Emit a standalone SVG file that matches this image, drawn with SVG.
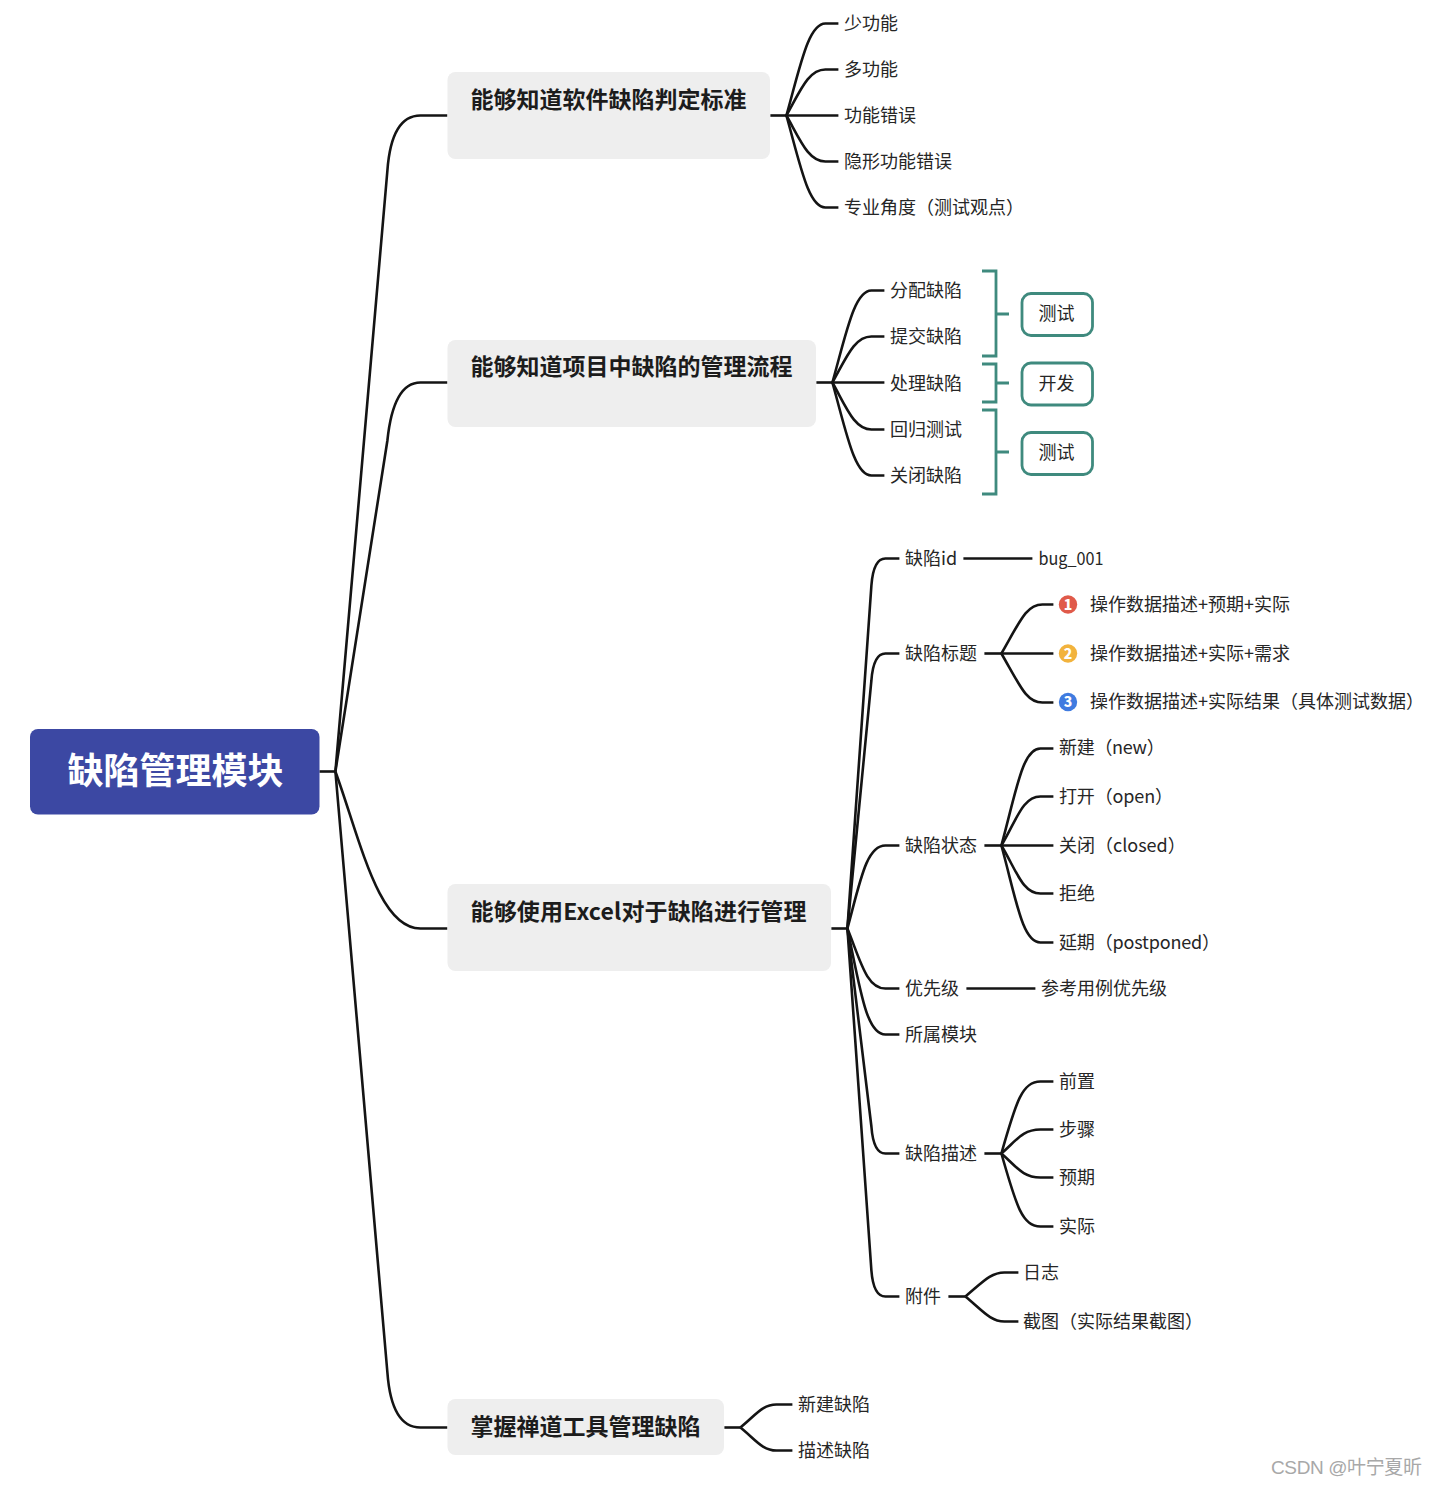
<svg xmlns="http://www.w3.org/2000/svg" width="1438" height="1486" viewBox="0 0 1438 1486">
<style>
text{font-family:"Noto Sans CJK SC","Noto Sans",sans-serif;fill:#262626}
.l{font-size:18px}
.b{font-size:23px;font-weight:700;fill:#1c1c1c}
.r{font-size:36px;font-weight:700;fill:#fff}
.bx{fill:#eeeeee}
.c path{fill:none;stroke:#141414;stroke-width:2.6}
.g path{fill:none;stroke:#3f8a7e;stroke-width:2.8}
.tag{fill:#fff;stroke:#3f8a7e;stroke-width:2.8}
.n{font-size:14px;font-weight:900;fill:#fff;text-anchor:middle}
.w{font-family:"Liberation Sans","Noto Sans CJK SC",sans-serif;font-size:19px;fill:#a8a8a8}
</style>
<g id="connectors" class="c" transform="translate(0.400 0.500)">
<path d="M319 771H335"/>
<path d="M335 771L387 170Q391 115 420 115H447"/>
<path d="M335 771L387 440Q393 382 420 382H447"/>
<path d="M335 771C360 840 378 928 420 928H447"/>
<path d="M335 771L387 1372Q391 1427 420 1427H447"/>
<path d="M770 115H786"/>
<path d="M786 115C800 65 808 23 825 23H838"/>
<path d="M786 115C800 90 808 69 825 69H838"/>
<path d="M786 115H838"/>
<path d="M786 115C800 140 808 161 825 161H838"/>
<path d="M786 115C800 165 808 207 825 207H838"/>
<path d="M816 382H832"/>
<path d="M832 382C846 332 854 290 871 290H884"/>
<path d="M832 382C846 357 854 336 871 336H884"/>
<path d="M832 382H884"/>
<path d="M832 382C846 407 854 429 871 429H884"/>
<path d="M832 382C846 432 854 475 871 475H884"/>
<path d="M831 928H847"/>
<path d="M847 928L871 585Q873 558 885 558H899"/>
<path d="M847 928L871 680Q873 653 885 653H899"/>
<path d="M847 928C860 880 866 845 885 845H899"/>
<path d="M847 928C860 960 866 988 885 988H899"/>
<path d="M847 928C860 990 866 1034 885 1034H899"/>
<path d="M847 928L871 1126Q873 1153 885 1153H899"/>
<path d="M847 928L871 1270Q873 1296 885 1296H899"/>
<path d="M963 558H1032"/>
<path d="M984 653H1001"/>
<path d="M1001 653C1020 620 1026 604 1042 604H1053"/>
<path d="M1001 653H1053"/>
<path d="M1001 653C1020 686 1026 702 1042 702H1053"/>
<path d="M984 845H1001"/>
<path d="M1001 845C1016 790 1022 748 1040 748H1053"/>
<path d="M1001 845C1016 820 1022 796 1040 796H1053"/>
<path d="M1001 845H1053"/>
<path d="M1001 845C1016 870 1022 893 1040 893H1053"/>
<path d="M1001 845C1016 900 1022 942 1040 942H1053"/>
<path d="M966 988H1035"/>
<path d="M984 1153H1001"/>
<path d="M1001 1153C1016 1100 1022 1081 1040 1081H1053"/>
<path d="M1001 1153C1016 1140 1022 1129 1040 1129H1053"/>
<path d="M1001 1153C1016 1166 1022 1177 1040 1177H1053"/>
<path d="M1001 1153C1016 1206 1022 1226 1040 1226H1053"/>
<path d="M948 1296H965"/>
<path d="M965 1296C982 1282 990 1272 1004 1272H1018"/>
<path d="M965 1296C982 1310 990 1321 1004 1321H1018"/>
<path d="M724 1427H740"/>
<path d="M740 1427C755 1415 762 1404 776 1404H792"/>
<path d="M740 1427C755 1439 762 1450 776 1450H792"/>
</g>
<g id="root"><rect x="30" y="729" width="289.500" height="85.500" rx="8" fill="#3c48a3"/><text class="r" x="67.500" y="784">缺陷管理模块</text></g>
<g id="b1"><rect class="bx" x="447.500" y="72" width="322.500" height="87" rx="8"/><text class="b" x="470.500" y="108">能够知道软件缺陷判定标准</text></g>
<g id="b2"><rect class="bx" x="447.500" y="340" width="368.500" height="87" rx="8"/><text class="b" x="470.500" y="375">能够知道项目中缺陷的管理流程</text></g>
<g id="b3"><rect class="bx" x="447.500" y="884" width="383.500" height="87" rx="8"/><text class="b" x="470.500" y="920" textLength="336">能够使用Excel对于缺陷进行管理</text></g>
<g id="b4"><rect class="bx" x="447.500" y="1399" width="276.500" height="56" rx="8"/><text class="b" x="470.500" y="1435">掌握禅道工具管理缺陷</text></g>
<g id="l1"><text class="l" x="844" y="30">少功能</text></g>
<g id="l2"><text class="l" x="844" y="76">多功能</text></g>
<g id="l3"><text class="l" x="844" y="122">功能错误</text></g>
<g id="l4"><text class="l" x="844" y="168">隐形功能错误</text></g>
<g id="l5"><text class="l" x="844" y="214">专业角度（测试观点）</text></g>
<g id="m1"><text class="l" x="890" y="297">分配缺陷</text></g>
<g id="m2"><text class="l" x="890" y="343">提交缺陷</text></g>
<g id="m3"><text class="l" x="890" y="390">处理缺陷</text></g>
<g id="m4"><text class="l" x="890" y="436">回归测试</text></g>
<g id="m5"><text class="l" x="890" y="482">关闭缺陷</text></g>
<g id="brackets" class="g">
<path d="M982 271H996V356H982M996 314H1009"/>
<path d="M982 364H996V402H982M996 383H1009"/>
<path d="M982 410H996V494H982M996 452H1009"/>
</g>
<g id="t1"><rect class="tag" x="1022" y="293.500" width="70.500" height="42" rx="9"/><text class="l" x="1056.500" y="320" text-anchor="middle">测试</text></g>
<g id="t2"><rect class="tag" x="1022" y="363" width="70.500" height="42" rx="9"/><text class="l" x="1056.500" y="390" text-anchor="middle">开发</text></g>
<g id="t3"><rect class="tag" x="1022" y="432.500" width="70.500" height="42" rx="9"/><text class="l" x="1056.500" y="459" text-anchor="middle">测试</text></g>
<g id="e1"><text class="l" x="905" y="565">缺陷id</text></g>
<g id="e1a"><text class="l" x="1038.500" y="565" textLength="65" lengthAdjust="spacingAndGlyphs">bug_001</text></g>
<g id="e2"><text class="l" x="905" y="660">缺陷标题</text></g>
<g id="e2a"><circle cx="1068" cy="604.500" r="9.200" fill="#e05a4a"/><text class="n" x="1068" y="609.500">1</text><text class="l" x="1090" y="611">操作数据描述+预期+实际</text></g>
<g id="e2b"><circle cx="1068" cy="653.500" r="9.200" fill="#f2b33d"/><text class="n" x="1068" y="658.500">2</text><text class="l" x="1090" y="660">操作数据描述+实际+需求</text></g>
<g id="e2c"><circle cx="1068" cy="702" r="9.200" fill="#3f7be0"/><text class="n" x="1068" y="707">3</text><text class="l" x="1090" y="708">操作数据描述+实际结果（具体测试数据）</text></g>
<g id="e3"><text class="l" x="905" y="852">缺陷状态</text></g>
<g id="e3a"><text class="l" x="1059" y="754" letter-spacing="-0.300">新建（new）</text></g>
<g id="e3b"><text class="l" x="1059" y="803" letter-spacing="-0.150">打开（open）</text></g>
<g id="e3c"><text class="l" x="1059" y="852">关闭（closed）</text></g>
<g id="e3d"><text class="l" x="1059" y="900">拒绝</text></g>
<g id="e3e"><text class="l" x="1059" y="949" letter-spacing="-0.170">延期（postponed）</text></g>
<g id="e4"><text class="l" x="905" y="995">优先级</text></g>
<g id="e4a"><text class="l" x="1041" y="995">参考用例优先级</text></g>
<g id="e5"><text class="l" x="905" y="1041">所属模块</text></g>
<g id="e6"><text class="l" x="905" y="1160">缺陷描述</text></g>
<g id="e6a"><text class="l" x="1059" y="1088">前置</text></g>
<g id="e6b"><text class="l" x="1059" y="1136">步骤</text></g>
<g id="e6c"><text class="l" x="1059" y="1184">预期</text></g>
<g id="e6d"><text class="l" x="1059" y="1233">实际</text></g>
<g id="e7"><text class="l" x="905" y="1303">附件</text></g>
<g id="e7a"><text class="l" x="1023" y="1279">日志</text></g>
<g id="e7b"><text class="l" x="1023" y="1328">截图（实际结果截图）</text></g>
<g id="f1"><text class="l" x="798" y="1411">新建缺陷</text></g>
<g id="f2"><text class="l" x="798" y="1457">描述缺陷</text></g>
<text class="w" x="1271" y="1474" textLength="151">CSDN @叶宁夏昕</text>
</svg>
